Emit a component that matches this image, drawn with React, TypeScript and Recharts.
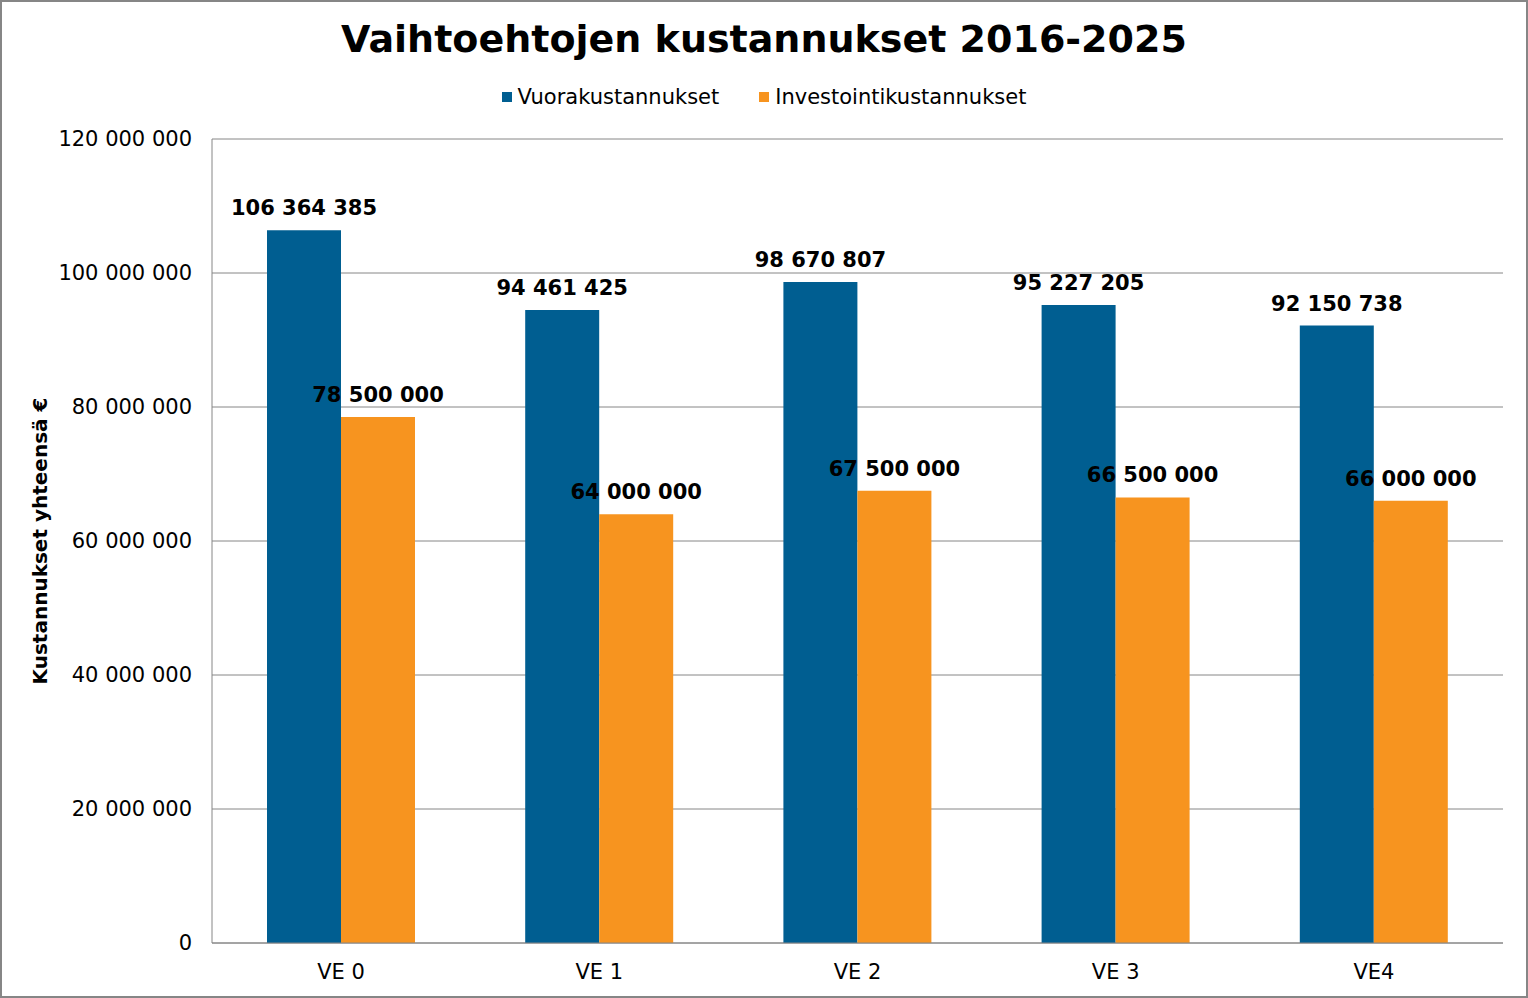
import { BarChart, Bar, XAxis, YAxis, CartesianGrid, LabelList, Label } from "recharts";

const categories = ["VE 0", "VE 1", "VE 2", "VE 3", "VE4"];
const vuorakustannukset = [106364385, 94461425, 98670807, 95227205, 92150738];
const investointikustannukset = [78500000, 64000000, 67500000, 66500000, 66000000];
const yTicks = [0, 20000000, 40000000, 60000000, 80000000, 100000000, 120000000];

const data = categories.map((name, i) => ({
  name,
  vuora: vuorakustannukset[i],
  invest: investointikustannukset[i],
}));

const FONT = "'DejaVu Sans', Verdana, sans-serif";
const BLUE = "#005E91";
const ORANGE = "#F7941F";

const fmt = (v: number) => String(v).replace(/\B(?=(\d{3})+(?!\d))/g, " ");

// value label above each bar, no wrapping
const ValueLabel = (props: any) => {
  const { x, y, width, value } = props;
  return (
    <text
      x={Number(x) + Number(width) / 2}
      y={Number(y) - 15}
      textAnchor="middle"
      fontFamily={FONT}
      fontSize={21}
      fontWeight="bold"
      fill="#000"
    >
      {fmt(Number(value))}
    </text>
  );
};

const legendItems = [
  { label: "Vuorakustannukset", color: BLUE },
  { label: "Investointikustannukset", color: ORANGE },
];

const App = () => {
  return (
    <div style={{ position: "relative", width: 1528, height: 998, boxSizing: "border-box", border: "2px solid #868686", background: "#fff" }}>
      <style>{"body{margin:0}"}</style>
      <div style={{ position: "absolute", left: 0, right: 0, top: 15, textAlign: "center", fontFamily: FONT, fontWeight: "bold", fontSize: 38, color: "#000" }}>
        Vaihtoehtojen kustannukset 2016-2025
      </div>
      <div style={{ position: "absolute", left: 0, right: 0, top: 83, display: "flex", justifyContent: "center", alignItems: "center", fontFamily: FONT, fontSize: 21, color: "#000" }}>
        {legendItems.map((item, i) => (
          <div key={item.label} style={{ display: "flex", alignItems: "center", marginLeft: i ? 40 : 0 }}>
            <span style={{ width: 10, height: 10, background: item.color, display: "inline-block", marginRight: 6 }} />
            <span>{item.label}</span>
          </div>
        ))}
      </div>
      <div style={{ position: "absolute", left: -2, top: -2 }}>
        <BarChart
          width={1528}
          height={998}
          data={data}
          margin={{ top: 139, right: 25, bottom: 25, left: 12 }}
          barCategoryGap={55}
          barGap={0}
        >
          <CartesianGrid vertical={false} stroke="#868686" />
          <XAxis
            dataKey="name"
            height={30}
            stroke="#868686"
            tickLine={false}
            tickSize={0}
            tickMargin={21}
            tick={{ fill: "#000", fontSize: 21, fontFamily: FONT }}
          />
          <YAxis
            width={200}
            domain={[0, 120000000]}
            ticks={yTicks}
            interval={0}
            stroke="#868686"
            tickLine={false}
            tickSize={0}
            tickMargin={20}
            tickFormatter={fmt}
            tick={{ fill: "#000", fontSize: 21, fontFamily: FONT }}
          >
            <Label
              value="Kustannukset yhteensä €"
              angle={-90}
              position="insideLeft"
              offset={28}
              style={{ textAnchor: "middle", fontFamily: FONT, fontSize: 20, fontWeight: "bold", fill: "#000" }}
            />
          </YAxis>
          <Bar dataKey="vuora" name="Vuorakustannukset" fill={BLUE} isAnimationActive={false}>
            <LabelList dataKey="vuora" content={<ValueLabel />} />
          </Bar>
          <Bar dataKey="invest" name="Investointikustannukset" fill={ORANGE} isAnimationActive={false}>
            <LabelList dataKey="invest" content={<ValueLabel />} />
          </Bar>
        </BarChart>
      </div>
    </div>
  );
};

export default App;
